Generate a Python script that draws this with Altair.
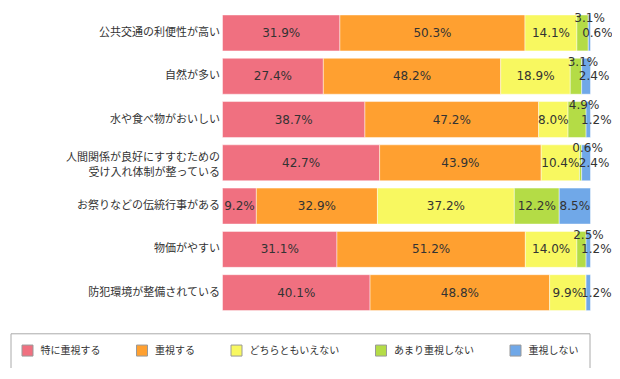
import altair as alt
import pandas as pd

categories = [
    "公共交通の利便性が高い",
    "自然が多い",
    "水や食べ物がおいしい",
    "人間関係が良好にすすむための|受け入れ体制が整っている",
    "お祭りなどの伝統行事がある",
    "物価がやすい",
    "防犯環境が整備されている",
]
series = ["特に重視する", "重視する", "どちらともいえない", "あまり重視しない", "重視しない"]
very_important = [31.9, 27.4, 38.7, 42.7, 9.2, 31.1, 40.1]
important = [50.3, 48.2, 47.2, 43.9, 32.9, 51.2, 48.8]
neutral = [14.1, 18.9, 8.0, 10.4, 37.2, 14.0, 9.9]
not_much = [3.1, 3.1, 4.9, 0.6, 12.2, 2.5, 0.0]
not_important = [0.6, 2.4, 1.2, 2.4, 8.5, 1.2, 1.2]
colors = ["#F07080", "#FFA030", "#F8F860", "#B4DC46", "#70A8E8"]

values = [very_important, important, neutral, not_much, not_important]
rows = []
for i, cat in enumerate(categories):
    cum = 0.0
    for j, s in enumerate(series):
        v = values[j][i]
        if v == 0:
            pos = "none"
        elif v < 5 and j == 3:
            pos = "above"
        elif v < 5 and j == 4:
            pos = "right"
        else:
            pos = "inside"
        rows.append({
            "cat": cat, "series": s, "order": j, "value": v,
            "start": cum, "end": cum + v, "mid": cum + v / 2,
            "label": f"{v:.1f}%", "pos": pos,
        })
        cum += v
df = pd.DataFrame(rows)

JP = "Noto Sans CJK JP"
NUM = "DejaVu Sans"

y_enc = alt.Y(
    "cat:N", sort=categories,
    scale=alt.Scale(paddingInner=0.17, paddingOuter=0.085),
    axis=alt.Axis(
        title=None, domain=False, ticks=False, labelPadding=3,
        labelFont=JP, labelFontSize=11, labelColor="#333",
        labelExpr="split(datum.label, '|')", labelLineHeight=15,
        labelOffset={"condition": {"test": "indexof(datum.value, '|') >= 0", "value": -5}, "value": 0},
        labelLimit=300,
    ),
)
x_scale = alt.Scale(domain=[0, 100], nice=False, zero=False)

base = alt.Chart(df)

bars = base.mark_bar(stroke="white", strokeWidth=1, strokeOpacity=0.45).encode(
    y=y_enc,
    x=alt.X("start:Q", scale=x_scale, axis=None),
    x2="end:Q",
    color=alt.Color(
        "series:N",
        scale=alt.Scale(domain=series, range=colors),
        legend=alt.Legend(
            title=None, orient="none", legendX=-212, legendY=322,
            direction="horizontal", symbolType="square", symbolSize=121,
            symbolStrokeColor="#999", symbolStrokeWidth=1, symbolOpacity=1,
            labelFont=JP, labelFontSize=10, labelColor="#333",
            labelOffset=7, columnPadding=33.5, padding=11,
            strokeColor="#aaa", fillColor="white",
        ),
    ),
    order=alt.Order("order:Q"),
)

def labels(pos, dx=0, dy=0):
    return base.transform_filter(alt.datum.pos == pos).mark_text(
        font=NUM, fontSize=12, color="#333", dx=dx, dy=dy
    ).encode(
        y=alt.Y("cat:N", sort=categories),
        x=alt.X("mid:Q", scale=x_scale),
        text="label:N",
    )

chart = alt.layer(
    bars, labels("inside"), labels("above", dx=7, dy=-14.5), labels("right", dx=8)
).properties(
    width=368, height=303,
    padding={"left": 214.5, "top": 3.3, "right": 21.5, "bottom": 53.7},
    autosize=alt.AutoSizeParams(type="none"),
).configure_view(stroke=None)

chart.save("out.html", embed_options={"renderer": "svg", "actions": False})
